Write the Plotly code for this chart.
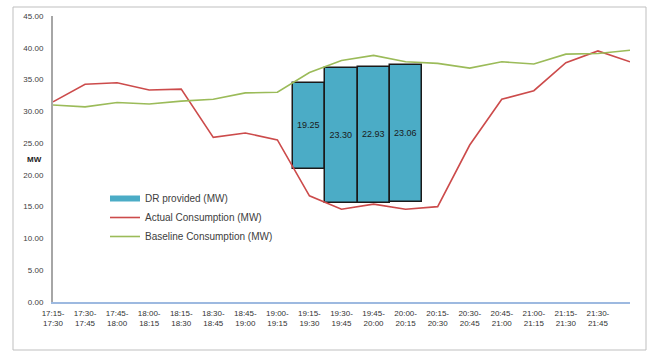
import plotly.graph_objects as go

# ---- data ----
slot_labels = ["17:15-<br>17:30", "17:30-<br>17:45", "17:45-<br>18:00", "18:00-<br>18:15",
               "18:15-<br>18:30", "18:30-<br>18:45", "18:45-<br>19:00", "19:00-<br>19:15",
               "19:15-<br>19:30", "19:30-<br>19:45", "19:45-<br>20:00", "20:00-<br>20:15",
               "20:15-<br>20:30", "20:30-<br>20:45", "20:45-<br>21:00", "21:00-<br>21:15",
               "21:15-<br>21:30", "21:30-<br>21:45"]

actual = [31.5, 34.25, 34.5, 33.35, 33.5, 25.9, 26.6, 25.5, 16.7, 14.6, 15.4, 14.6, 15.0,
          24.7, 31.9, 33.25, 37.65, 39.5, 37.8]
baseline = [31.0, 30.7, 31.4, 31.15, 31.6, 31.9, 32.9, 33.0, 36.1, 38.0, 38.8, 37.8, 37.55,
            36.8, 37.8, 37.45, 39.0, 39.1, 39.6]

dr_index = [8, 9, 10, 11]
dr_base = [20.9, 15.5, 15.6, 15.7]
dr_top = [34.4, 36.8, 37.0, 37.3]
dr_labels = ["19.25", "23.30", "22.93", "23.06"]

FONT = "Arial, Liberation Sans, sans-serif"
DR_COLOR = "#4BACC6"

fig = go.Figure()

fig.add_trace(go.Bar(
    x=dr_index,
    y=[t - b for t, b in zip(dr_top, dr_base)],
    base=dr_base,
    width=1.0,
    marker=dict(color=DR_COLOR, line=dict(color="#1a1a1a", width=1.5)),
    text=dr_labels,
    textposition="inside",
    insidetextanchor="middle",
    textfont=dict(family=FONT, size=9, color="#1a1a1a"),
    textangle=0,
    name="DR provided (MW)",
    showlegend=False,
    legendgroup="dr",
))

# legend-only entry giving the wide flat swatch used in the original legend
fig.add_trace(go.Scatter(
    x=[None], y=[None], mode="lines",
    line=dict(color=DR_COLOR, width=6),
    name="DR provided (MW)", legendgroup="dr",
))

fig.add_trace(go.Scatter(
    x=list(range(len(actual))), y=actual, mode="lines",
    line=dict(color="#CC4B4B", width=1.6),
    name="Actual Consumption (MW)",
))

fig.add_trace(go.Scatter(
    x=list(range(len(baseline))), y=baseline, mode="lines",
    line=dict(color="#9BBB59", width=1.6),
    name="Baseline Consumption (MW)",
))

# pixel helpers for layout decorations
L, R, T, B = 53, 22, 16, 51
W, H = 652, 353
pw, ph = W - L - R, H - T - B


def px_x(px):
    return (px - L) / pw


def px_y(py):
    return (H - B - py) / ph


fig.update_layout(
    width=W, height=H,
    margin=dict(l=L, r=R, t=T, b=B, pad=0),
    paper_bgcolor="white", plot_bgcolor="white",
    font=dict(family=FONT, size=8, color="#404040"),
    bargap=0,
    showlegend=True,
    legend=dict(
        x=px_x(105), y=px_y(184), xanchor="left", yanchor="top",
        bgcolor="rgba(0,0,0,0)", font=dict(family=FONT, size=10, color="#404040"),
        tracegroupgap=0, itemwidth=30,
    ),
    xaxis=dict(
        range=[0, len(actual) - 1],
        tickmode="array", tickvals=list(range(len(slot_labels))), ticktext=slot_labels,
        tickangle=0, showgrid=False, zeroline=False,
        showline=True, linecolor="#9DB9E0", linewidth=2,
        ticks="", ticklabelstandoff=2,
        tickfont=dict(family=FONT, size=8, color="#333333"),
    ),
    yaxis=dict(
        range=[0, 45], dtick=5, tickformat=".2f",
        showgrid=False, zeroline=False,
        showline=True, linecolor="#A6A6A6", linewidth=2,
        ticks="", ticklabelstandoff=6,
        tickfont=dict(family=FONT, size=8, color="#404040"),
    ),
    shapes=[dict(
        type="rect", xref="paper", yref="paper",
        x0=px_x(13), x1=px_x(646), y0=px_y(350), y1=px_y(7),
        line=dict(color="#BFBFBF", width=1), fillcolor="rgba(0,0,0,0)", layer="below",
    )],
    annotations=[dict(
        text="<b>MW</b>", xref="paper", yref="paper",
        x=px_x(34), y=px_y(159), xanchor="center", yanchor="middle", showarrow=False,
        font=dict(family=FONT, size=8, color="#222222"),
    )],
)

fig.write_html("out.html")
